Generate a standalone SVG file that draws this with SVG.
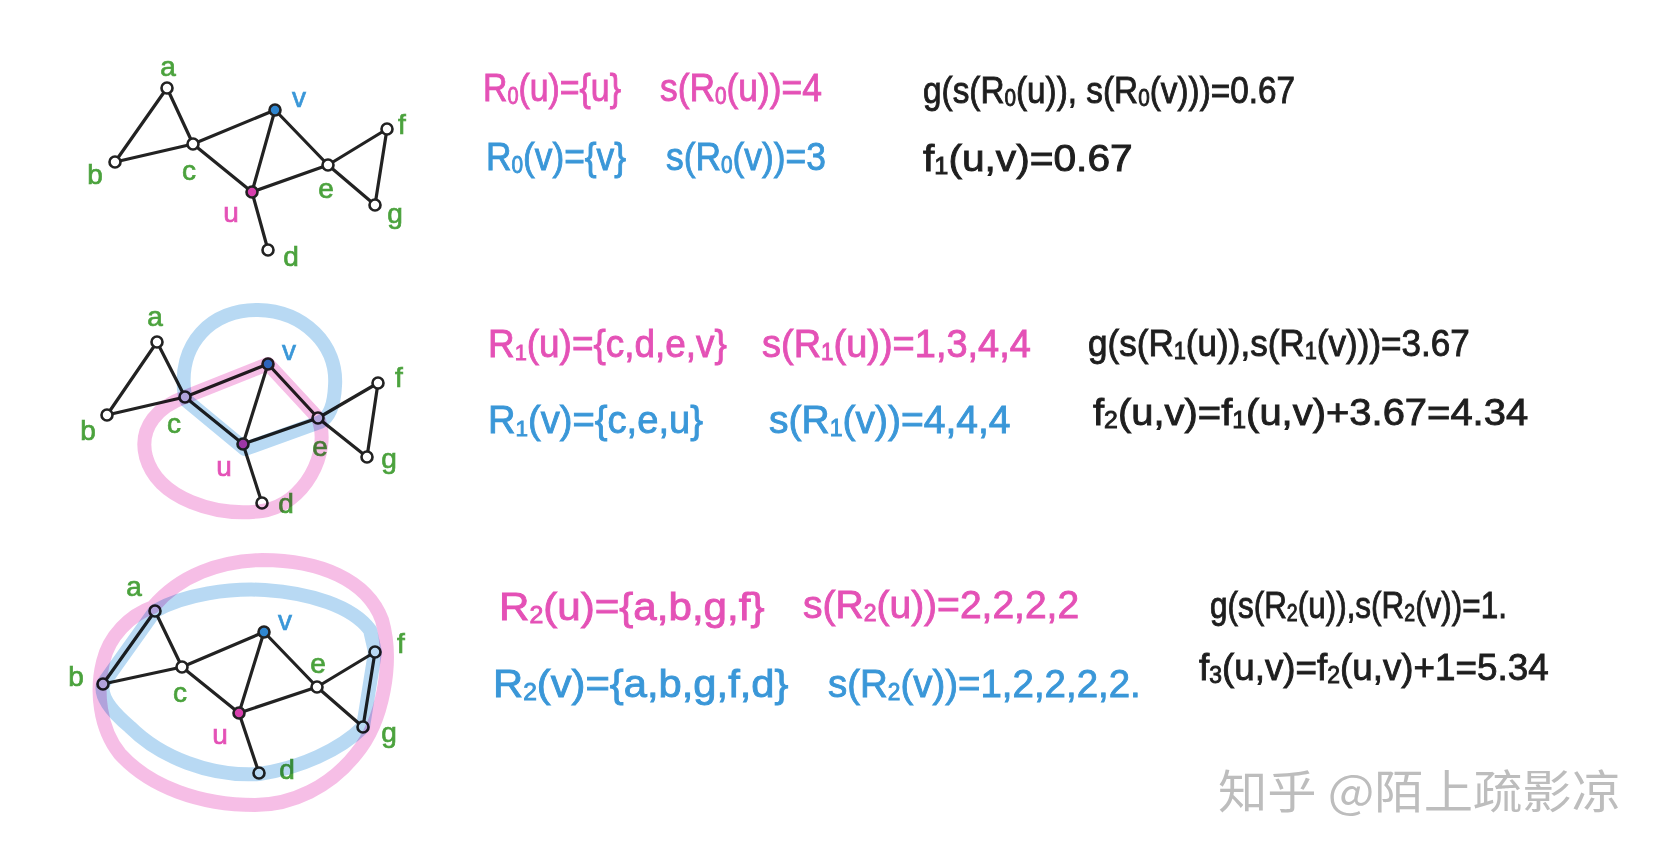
<svg xmlns="http://www.w3.org/2000/svg" width="1664" height="858" viewBox="0 0 1664 858">
<style>
.edge{stroke:#222;stroke-width:3.2;stroke-linecap:round;fill:none}
.node{fill:#fff;stroke:#222;stroke-width:2.6}
.nu{fill:#d83fae}
.nv{fill:#2f86d0}
.lbl{font-family:"Liberation Sans","DejaVu Sans",sans-serif;font-size:28px;text-anchor:middle;dominant-baseline:central;stroke-width:.7}
.gr{fill:#4ba23d;stroke:#4ba23d}
.pk{fill:#e451b6;stroke:#e451b6}
.bl{fill:#3a97d8;stroke:#3a97d8}
.bk{fill:#1e1e1e;stroke:#1e1e1e}
.eq{font-family:"Liberation Sans","DejaVu Sans",sans-serif;font-size:39px;stroke-width:.9}
.bkq{font-size:37px}
.sb{font-size:23px}
.hlb{fill:none;stroke:#9ccbef;stroke-width:14;stroke-linejoin:round;stroke-linecap:round;opacity:.72;mix-blend-mode:multiply}
.hlp{fill:none;stroke:#f3a5dc;stroke-width:14;stroke-linejoin:round;stroke-linecap:round;opacity:.72;mix-blend-mode:multiply}
.wm{font-family:"Noto Sans CJK SC","Liberation Sans",sans-serif;font-size:46px;fill:#bdbdbd}
</style>
<rect width="1664" height="858" fill="#fff"/>

<g id="connectors">
<path class="edge" d="M167,88L115,162M167,88L193,144M115,162L193,144M193,144L275,110M193,144L252,192M275,110L252,192M275,110L328,165M252,192L328,165M252,192L268,250M328,165L387,129M328,165L375,205M387,129L375,205"/>
<path class="edge" d="M157,342L107,415M157,342L185,397M107,415L185,397M185,397L268,364M185,397L243,444M268,364L243,444M268,364L318,418M243,444L318,418M243,444L262,503M318,418L378,383M318,418L367,457M378,383L367,457"/>
<path class="edge" d="M155,611L103,684M155,611L182,667M103,684L182,667M182,667L264,632M182,667L239,713M264,632L239,713M264,632L317,687M239,713L317,687M239,713L259,773M317,687L375,652M317,687L363,727M375,652L363,727"/>
</g>

<g id="graph1">
<g id="g1-a"><circle class="node" cx="167" cy="88" r="5.5"/><text class="lbl gr" x="168" y="66">a</text></g>
<g id="g1-b"><circle class="node" cx="115" cy="162" r="5.5"/><text class="lbl gr" x="95" y="174">b</text></g>
<g id="g1-c"><circle class="node" cx="193" cy="144" r="5.5"/><text class="lbl gr" x="189" y="170">c</text></g>
<g id="g1-v"><circle class="node nv" cx="275" cy="110" r="5.5"/><text class="lbl bl" x="299" y="97">v</text></g>
<g id="g1-u"><circle class="node nu" cx="252" cy="192" r="5.5"/><text class="lbl pk" x="231" y="212">u</text></g>
<g id="g1-e"><circle class="node" cx="328" cy="165" r="5.5"/><text class="lbl gr" x="326" y="188">e</text></g>
<g id="g1-f"><circle class="node" cx="387" cy="129" r="5.5"/><text class="lbl gr" x="402" y="124">f</text></g>
<g id="g1-g"><circle class="node" cx="375" cy="205" r="5.5"/><text class="lbl gr" x="395" y="213">g</text></g>
<g id="g1-d"><circle class="node" cx="268" cy="250" r="5.5"/><text class="lbl gr" x="291" y="256">d</text></g>
</g>

<g id="graph2">
<g id="g2-a"><circle class="node" cx="157" cy="342" r="5.5"/><text class="lbl gr" x="155" y="316">a</text></g>
<g id="g2-b"><circle class="node" cx="107" cy="415" r="5.5"/><text class="lbl gr" x="88" y="430">b</text></g>
<g id="g2-c"><circle class="node" cx="185" cy="397" r="5.5"/><text class="lbl gr" x="174" y="423">c</text></g>
<g id="g2-v"><circle class="node nv" cx="268" cy="364" r="5.5"/><text class="lbl bl" x="289" y="350">v</text></g>
<g id="g2-u"><circle class="node nu" cx="243" cy="444" r="5.5"/><text class="lbl pk" x="224" y="466">u</text></g>
<g id="g2-e"><circle class="node" cx="318" cy="418" r="5.5"/><text class="lbl gr" x="320" y="446">e</text></g>
<g id="g2-f"><circle class="node" cx="378" cy="383" r="5.5"/><text class="lbl gr" x="399" y="377">f</text></g>
<g id="g2-g"><circle class="node" cx="367" cy="457" r="5.5"/><text class="lbl gr" x="389" y="458">g</text></g>
<g id="g2-d"><circle class="node" cx="262" cy="503" r="5.5"/><text class="lbl gr" x="286" y="503">d</text></g>
</g>

<g id="graph3">
<g id="g3-a"><circle class="node" cx="155" cy="611" r="5.5"/><text class="lbl gr" x="134" y="586">a</text></g>
<g id="g3-b"><circle class="node" cx="103" cy="684" r="5.5"/><text class="lbl gr" x="76" y="676">b</text></g>
<g id="g3-c"><circle class="node" cx="182" cy="667" r="5.5"/><text class="lbl gr" x="180" y="692">c</text></g>
<g id="g3-v"><circle class="node nv" cx="264" cy="632" r="5.5"/><text class="lbl bl" x="285" y="620">v</text></g>
<g id="g3-u"><circle class="node nu" cx="239" cy="713" r="5.5"/><text class="lbl pk" x="220" y="734">u</text></g>
<g id="g3-e"><circle class="node" cx="317" cy="687" r="5.5"/><text class="lbl gr" x="318" y="663">e</text></g>
<g id="g3-f"><circle class="node" cx="375" cy="652" r="5.5"/><text class="lbl gr" x="401" y="643">f</text></g>
<g id="g3-g"><circle class="node" cx="363" cy="727" r="5.5"/><text class="lbl gr" x="389" y="732">g</text></g>
<g id="g3-d"><circle class="node" cx="259" cy="773" r="5.5"/><text class="lbl gr" x="287" y="769">d</text></g>
</g>

<g id="highlights">
<path class="hlb" d="M185,397 C176,343 213,309 258,310 C304,311 338,345 335,386 C334,408 328,418 320,422 L245,449 L187,401 Z"/>
<path class="hlp" d="M185,397 L268,364 L318,418 C332,452 304,505 262,511 C216,517 158,499 146,457 C138,426 160,406 185,397 Z"/>
<path class="hlb" d="M103,684 L155,611 C185,594 230,588 265,590 C310,593 352,606 370,630 L375,652 L363,727 C340,750 300,768 259,774 C210,777 160,757 130,727 C110,710 100,696 103,684 Z"/>
<path class="hlp" d="M153,607 C180,575 220,561 262,560 C320,560 367,580 382,620 C394,662 383,722 356,754 C330,787 292,805 255,805 C200,805 150,787 120,754 C99,728 96,690 103,662 C109,636 130,615 153,607 Z"/>
</g>

<g id="equations" class="eq">
<text class="pk" transform="translate(483,101) scale(0.867,1)">R<tspan class="sb" dy="3">0</tspan><tspan dy="-3">(u)={u}</tspan></text>
<text class="pk" transform="translate(660,101) scale(0.907,1)">s(R<tspan class="sb" dy="3">0</tspan><tspan dy="-3">(u))=4</tspan></text>
<text class="bk bkq" transform="translate(923,103) scale(0.901,1)">g(s(R<tspan class="sb" dy="3">0</tspan><tspan dy="-3">(u)), s(R</tspan><tspan class="sb" dy="3">0</tspan><tspan dy="-3">(v)))=0.67</tspan></text>
<text class="bl" transform="translate(486,170) scale(0.905,1)">R<tspan class="sb" dy="3">0</tspan><tspan dy="-3">(v)={v}</tspan></text>
<text class="bl" transform="translate(666,170) scale(0.907,1)">s(R<tspan class="sb" dy="3">0</tspan><tspan dy="-3">(v))=3</tspan></text>
<text class="bk bkq" transform="translate(923,171) scale(1.1,1)">f<tspan class="sb" dy="3">1</tspan><tspan dy="-3">(u,v)=0.67</tspan></text>

<text class="pk" transform="translate(488,357) scale(0.947,1)">R<tspan class="sb" dy="3">1</tspan><tspan dy="-3">(u)={c,d,e,v}</tspan></text>
<text class="pk" transform="translate(762,357) scale(0.974,1)">s(R<tspan class="sb" dy="3">1</tspan><tspan dy="-3">(u))=1,3,4,4</tspan></text>
<text class="bk bkq" transform="translate(1088,356) scale(0.948,1)">g(s(R<tspan class="sb" dy="3">1</tspan><tspan dy="-3">(u)),s(R</tspan><tspan class="sb" dy="3">1</tspan><tspan dy="-3">(v)))=3.67</tspan></text>
<text class="bl" transform="translate(488,433) scale(0.978,1)">R<tspan class="sb" dy="3">1</tspan><tspan dy="-3">(v)={c,e,u}</tspan></text>
<text class="bl" transform="translate(769,433) scale(1.0,1)">s(R<tspan class="sb" dy="3">1</tspan><tspan dy="-3">(v))=4,4,4</tspan></text>
<text class="bk bkq" transform="translate(1093,425) scale(1.08,1)">f<tspan class="sb" dy="3">2</tspan><tspan dy="-3">(u,v)=f</tspan><tspan class="sb" dy="3">1</tspan><tspan dy="-3">(u,v)+3.67=4.34</tspan></text>

<text class="pk" transform="translate(499,620) scale(1.08,1)">R<tspan class="sb" dy="3">2</tspan><tspan dy="-3">(u)={a,b,g,f}</tspan></text>
<text class="pk" transform="translate(803,618) scale(1.0,1)">s(R<tspan class="sb" dy="3">2</tspan><tspan dy="-3">(u))=2,2,2,2</tspan></text>
<text class="bk bkq" transform="translate(1210,618) scale(0.85,1)">g(s(R<tspan class="sb" dy="3">2</tspan><tspan dy="-3">(u)),s(R</tspan><tspan class="sb" dy="3">2</tspan><tspan dy="-3">(v))=1.</tspan></text>
<text class="bl" transform="translate(493,697) scale(1.07,1)">R<tspan class="sb" dy="3">2</tspan><tspan dy="-3">(v)={a,b,g,f,d}</tspan></text>
<text class="bl" transform="translate(828,697) scale(0.986,1)">s(R<tspan class="sb" dy="3">2</tspan><tspan dy="-3">(v))=1,2,2,2,2.</tspan></text>
<text class="bk bkq" transform="translate(1199,680) scale(0.995,1)">f<tspan class="sb" dy="3">3</tspan><tspan dy="-3">(u,v)=f</tspan><tspan class="sb" dy="3">2</tspan><tspan dy="-3">(u,v)+1=5.34</tspan></text>
</g>

<text class="wm" x="1218" y="808" textLength="403" lengthAdjust="spacingAndGlyphs">知乎 @陌上疏影凉</text>
</svg>
